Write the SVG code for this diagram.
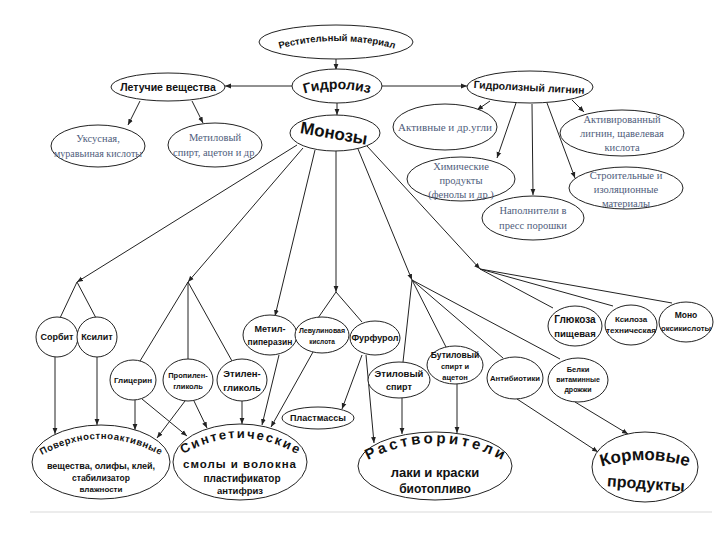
<svg xmlns="http://www.w3.org/2000/svg" xmlns:xlink="http://www.w3.org/1999/xlink" width="720" height="540" viewBox="0 0 720 540">
<style>
.n ellipse{fill:#fff;stroke:#222;stroke-width:1}
.t{font-family:"Liberation Sans",Arial,sans-serif;font-weight:bold;fill:#111;text-anchor:middle}
.s{font-family:"Liberation Serif","Times New Roman",serif;fill:#4f5d7c;text-anchor:middle;font-size:10.5px}
.c line,.c path{stroke:#222;stroke-width:1;fill:none}
.ar{marker-end:url(#a)}
</style>
<defs>
<marker id="a" viewBox="0 0 10 10" refX="10" refY="5" markerWidth="6" markerHeight="6" markerUnits="userSpaceOnUse" orient="auto"><path d="M0,1 L10,5 L0,9 z" fill="#222"/></marker>
<path id="pRast" d="M282 48 Q336 34 392 48"/>
<path id="pGidr" d="M296 96 Q337 82 378 96"/>
<path id="pPav1" d="M42 455 Q101 423 160 455"/>
<path id="pSin1" d="M185 453 Q240 423 295 453"/>
<path id="pRas1" d="M368 460 Q435 426 502 460"/>
<path id="pKorm" d="M600 467 Q645 453 690 467"/>
</defs>

<line x1="30" y1="512" x2="712" y2="512" stroke="#ececec" stroke-width="2"/>

<g class="c" id="connectors">
<line class="ar" x1="336" y1="59" x2="336" y2="70"/>
<line class="ar" x1="292" y1="86" x2="225" y2="86"/>
<line class="ar" x1="381" y1="86" x2="467" y2="86"/>
<line class="ar" x1="337" y1="103" x2="337" y2="115"/>
<line class="ar" x1="140" y1="101" x2="128" y2="125"/>
<line class="ar" x1="192" y1="101" x2="203" y2="123"/>
<line class="ar" x1="490" y1="101" x2="477" y2="110"/>
<line class="ar" x1="516" y1="103" x2="497" y2="158"/>
<line class="ar" x1="532" y1="104" x2="533" y2="195"/>
<line class="ar" x1="547" y1="103" x2="575" y2="178"/>
<line class="ar" x1="572" y1="100" x2="584" y2="112"/>

<line class="ar" x1="297" y1="145" x2="77" y2="282"/>
<line x1="77" y1="282" x2="60" y2="318"/>
<line x1="77" y1="282" x2="96" y2="318"/>
<line class="ar" x1="303" y1="148" x2="188" y2="282"/>
<line x1="188" y1="282" x2="140" y2="361"/>
<line x1="188" y1="282" x2="188" y2="359"/>
<line x1="188" y1="282" x2="232" y2="361"/>
<line class="ar" x1="315" y1="150" x2="275" y2="316"/>
<line class="ar" x1="336" y1="150" x2="336" y2="292"/>
<line x1="336" y1="292" x2="318" y2="318"/>
<line x1="336" y1="292" x2="362" y2="322"/>
<line class="ar" x1="358" y1="149" x2="412" y2="280"/>
<line x1="412" y1="280" x2="403" y2="362"/>
<line x1="412" y1="280" x2="446" y2="347"/>
<line x1="412" y1="280" x2="503" y2="358"/>
<line x1="412" y1="280" x2="560" y2="359"/>
<line class="ar" x1="367" y1="146" x2="480" y2="269"/>
<line x1="480" y1="269" x2="553" y2="308"/>
<line x1="480" y1="269" x2="613" y2="306"/>
<line x1="480" y1="269" x2="672" y2="303"/>

<line class="ar" x1="55" y1="357" x2="55" y2="434"/>
<line class="ar" x1="97" y1="357" x2="97" y2="425"/>
<line class="ar" x1="135" y1="400" x2="135" y2="430"/>
<line class="ar" x1="185" y1="401" x2="157" y2="438"/>
<line class="ar" x1="142" y1="399" x2="187" y2="436"/>
<line class="ar" x1="194" y1="401" x2="207" y2="428"/>
<line class="ar" x1="242" y1="401" x2="242" y2="424"/>
<line class="ar" x1="279" y1="355" x2="262" y2="425"/>
<line class="ar" x1="313" y1="352" x2="271" y2="427"/>
<line class="ar" x1="362" y1="355" x2="342" y2="409"/>
<line class="ar" x1="366" y1="355" x2="374" y2="443"/>
<line class="ar" x1="402" y1="398" x2="402" y2="434"/>
<line class="ar" x1="457" y1="384" x2="457" y2="433"/>
<line class="ar" x1="517" y1="399" x2="598" y2="452"/>
<line class="ar" x1="575" y1="402" x2="628" y2="434"/>
</g>

<g class="n" id="rast-material"><ellipse cx="336" cy="42" rx="77" ry="17"/><text class="t" font-size="9.5"><textPath href="#pRast" xlink:href="#pRast" startOffset="50%">Рестительный материал</textPath></text></g>
<g class="n" id="gidroliz"><ellipse cx="337" cy="86" rx="45" ry="17"/><text class="t" font-size="14"><textPath href="#pGidr" xlink:href="#pGidr" startOffset="50%">Гидролиз</textPath></text></g>
<g class="n" id="letuchie"><ellipse cx="168" cy="87" rx="57" ry="14"/><text class="t" x="168" y="91" font-size="10.5">Летучие вещества</text></g>
<g class="n" id="lignin"><ellipse cx="530" cy="87" rx="63" ry="16"/><text class="t" x="529" y="91" font-size="10.5" transform="rotate(3 529 88)">Гидролизный лигнин</text></g>
<g class="n" id="uksus"><ellipse cx="98" cy="146" rx="47" ry="21"/><text class="s" x="98" y="142">Уксусная,</text><text class="s" x="98" y="157" textLength="88" lengthAdjust="spacingAndGlyphs">муравьиная кислоты</text></g>
<g class="n" id="metil-spirt"><ellipse cx="215" cy="145" rx="47" ry="22"/><text class="s" x="215" y="141">Метиловый</text><text class="s" x="215" y="156" textLength="84" lengthAdjust="spacingAndGlyphs">спирт, ацетон и др.</text></g>
<g class="n" id="monozy"><ellipse cx="335" cy="133" rx="45" ry="18"/><text class="t" x="334" y="139" font-size="17" transform="rotate(10 334 133)">Монозы</text></g>

<g class="n" id="ugli"><ellipse cx="445" cy="127" rx="52" ry="23"/><text class="s" x="445" y="131" textLength="94" lengthAdjust="spacingAndGlyphs">Активные и др.угли</text></g>
<g class="n" id="akt-lignin"><ellipse cx="622" cy="133" rx="62" ry="23"/><text class="s" x="622" y="123">Активированный</text><text class="s" x="622" y="137">лигнин, щавелевая</text><text class="s" x="622" y="151">кислота</text></g>
<g class="n" id="him"><ellipse cx="461" cy="179" rx="54" ry="22"/><text class="s" x="461" y="170">Химические</text><text class="s" x="461" y="184">продукты</text><text class="s" x="461" y="198">(фенолы и др.)</text></g>
<g class="n" id="stroit"><ellipse cx="626" cy="188" rx="57" ry="21"/><text class="s" x="626" y="179">Строительные и</text><text class="s" x="626" y="193">изоляционные</text><text class="s" x="626" y="207">материалы</text></g>
<g class="n" id="napoln"><ellipse cx="533" cy="218" rx="51" ry="22"/><text class="s" x="533" y="214">Наполнители в</text><text class="s" x="533" y="229">пресс порошки</text></g>

<g class="n" id="sorbit"><ellipse cx="57" cy="337" rx="21" ry="20"/><text class="t" x="57" y="340" font-size="9">Сорбит</text></g>
<g class="n" id="ksilit"><ellipse cx="97" cy="337" rx="20" ry="20"/><text class="t" x="97" y="340" font-size="9">Ксилит</text></g>
<g class="n" id="glicerin"><ellipse cx="133" cy="380" rx="23" ry="20"/><text class="t" x="133" y="383" font-size="8">Глицерин</text></g>
<g class="n" id="propilen"><ellipse cx="188" cy="380" rx="25" ry="21"/><text class="t" x="188" y="378" font-size="7.5">Пропилен-</text><text class="t" x="188" y="389" font-size="7.5">гликоль</text></g>
<g class="n" id="etilen"><ellipse cx="242" cy="380" rx="25" ry="21"/><text class="t" x="242" y="377" font-size="9.5">Этилен-</text><text class="t" x="242" y="391" font-size="9.5">гликоль</text></g>
<g class="n" id="metilpip"><ellipse cx="270" cy="335" rx="27" ry="20"/><text class="t" x="270" y="332" font-size="9">Метил-</text><text class="t" x="270" y="345" font-size="8.5">пиперазин</text></g>
<g class="n" id="levulin"><ellipse cx="322" cy="335" rx="27" ry="18"/><text class="t" x="322" y="333" font-size="7">Левулиновая</text><text class="t" x="322" y="344" font-size="6.5">кислота</text></g>
<g class="n" id="furfurol"><ellipse cx="375" cy="338" rx="25" ry="17"/><text class="t" x="375" y="341" font-size="9">Фурфурол</text></g>
<g class="n" id="etil-spirt"><ellipse cx="399" cy="380" rx="31" ry="18"/><text class="t" x="399" y="377" font-size="9.5">Этиловый</text><text class="t" x="399" y="390" font-size="9">спирт</text></g>
<g class="n" id="butil"><ellipse cx="455" cy="365" rx="28" ry="19"/><text class="t" x="455" y="358" font-size="8.5">Бутиловый</text><text class="t" x="455" y="369" font-size="7.5">спирт и</text><text class="t" x="455" y="380" font-size="7.5">ацетон</text></g>
<g class="n" id="antibiot"><ellipse cx="515" cy="378" rx="28" ry="21"/><text class="t" x="515" y="381" font-size="7" textLength="50" lengthAdjust="spacingAndGlyphs">Антибиотики</text></g>
<g class="n" id="belki"><ellipse cx="578" cy="380" rx="30" ry="22"/><text class="t" x="578" y="372" font-size="7.5">Белки</text><text class="t" x="578" y="382" font-size="7">витаминные</text><text class="t" x="578" y="392" font-size="7">дрожжи</text></g>
<g class="n" id="glukoza"><ellipse cx="575" cy="326" rx="27" ry="20"/><text class="t" x="575" y="323" font-size="10">Глюкоза</text><text class="t" x="575" y="337" font-size="9.5">пищевая</text></g>
<g class="n" id="ksiloza"><ellipse cx="631" cy="325" rx="26" ry="20"/><text class="t" x="631" y="322" font-size="8">Ксилоза</text><text class="t" x="631" y="333" font-size="7" textLength="50" lengthAdjust="spacingAndGlyphs">техническая</text></g>
<g class="n" id="monokisl"><ellipse cx="686" cy="322" rx="27" ry="20"/><text class="t" x="686" y="318" font-size="8.5">Моно</text><text class="t" x="686" y="331" font-size="7.5" textLength="50" lengthAdjust="spacingAndGlyphs">оксикислоты</text></g>

<g class="n" id="pav"><ellipse cx="101" cy="462" rx="69" ry="37"/>
<text class="t" font-size="9.5"><textPath href="#pPav1" xlink:href="#pPav1" startOffset="50%" textLength="124" lengthAdjust="spacing">Поверхностноактивные</textPath></text>
<text class="t" x="101" y="469" font-size="9">вещества, олифы, клей,</text>
<text class="t" x="101" y="481" font-size="8.5" font-weight="normal">стабилизатор</text>
<text class="t" x="101" y="492" font-size="8">влажности</text></g>
<g class="n" id="sintet"><ellipse cx="240" cy="462" rx="67" ry="38"/>
<text class="t" font-size="13"><textPath href="#pSin1" xlink:href="#pSin1" startOffset="50%" textLength="120" lengthAdjust="spacing">Синтетические</textPath></text>
<text class="t" x="240" y="468" font-size="11.5" font-weight="normal" letter-spacing="1">смолы и волокна</text>
<text class="t" x="242" y="482" font-size="10">пластификатор</text>
<text class="t" x="240" y="494" font-size="9.5">антифриз</text></g>
<g class="n" id="plastmassy"><ellipse cx="318" cy="418" rx="36" ry="11"/><text class="t" x="318" y="421" font-size="9" font-weight="normal">Пластмассы</text></g>
<g class="n" id="rastvor"><ellipse cx="435" cy="466" rx="77" ry="34"/>
<text class="t" font-size="15" font-weight="normal"><textPath href="#pRas1" xlink:href="#pRas1" startOffset="50%" textLength="140" lengthAdjust="spacing">Растворители</textPath></text>
<text class="t" x="435" y="477" font-size="13" font-weight="normal">лаки и краски</text>
<text class="t" x="435" y="493" font-size="12" font-weight="normal">биотопливо</text></g>
<g class="n" id="korm"><ellipse cx="645" cy="467" rx="53" ry="35"/>
<text class="t" font-size="17" font-weight="normal"><textPath href="#pKorm" xlink:href="#pKorm" startOffset="50%">Кормовые</textPath></text>
<text class="t" x="646" y="489" font-size="16" font-weight="normal" transform="rotate(4 646 484)">продукты</text></g>
</svg>
